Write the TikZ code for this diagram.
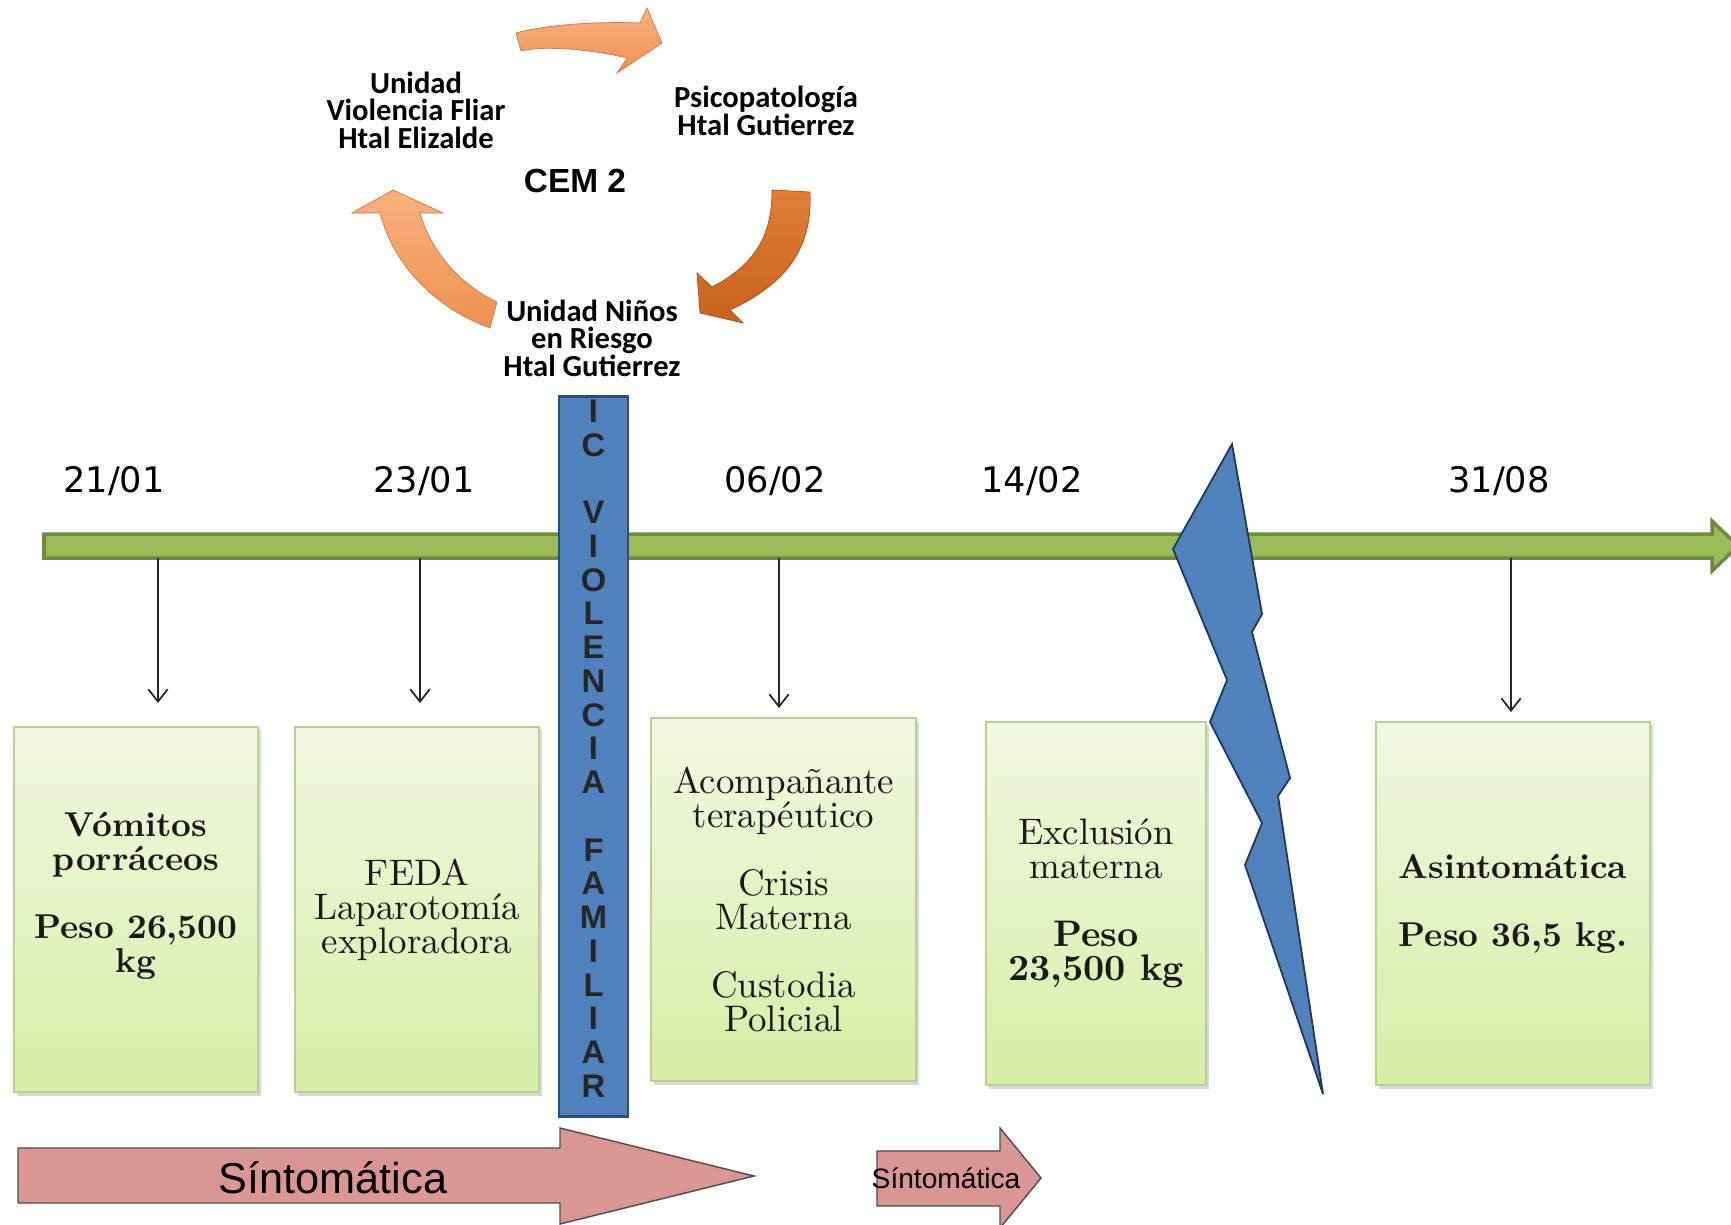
\documentclass[tikz,border=0pt]{standalone}
\usepackage{fontspec}
\usetikzlibrary{arrows.meta,shadows}
\newfontfamily\datefont{DejaVu Sans}
\newfontfamily\calfont{Carlito}
\newfontfamily\arialfont{Liberation Sans}
\definecolor{lineGreen}{HTML}{9BBB59}
\definecolor{lineGreenD}{HTML}{71893F}
\definecolor{boxTop}{HTML}{F1F8E2}
\definecolor{boxBot}{HTML}{D7EEA6}
\definecolor{boxEdge}{HTML}{B9D18C}
\definecolor{barBlue}{HTML}{4F81BD}
\definecolor{barBlueD}{HTML}{2C4D75}
\definecolor{pinkFill}{HTML}{D99694}
\definecolor{orangeL}{HTML}{F9B27E}
\definecolor{orangeM}{HTML}{EE9150}
\definecolor{orangeD}{HTML}{C8621C}
\definecolor{orangeDL}{HTML}{E07E36}

\begin{document}
\begin{tikzpicture}[x=0.01cm,y=-0.01cm]
\tikzstyle{box}=[draw=boxEdge, line width=0.4pt, top color=boxTop, bottom color=boxBot, align=center, inner sep=0pt, text=black!90, font=\fontsize{10.5}{9.7}\selectfont, drop shadow={shadow xshift=0.8pt, shadow yshift=-1pt, opacity=0.3}]
\tikzstyle{boldbox}=[box, font=\fontsize{9.8}{9.7}\selectfont\bfseries]
\tikzstyle{cyc}=[align=center, inner sep=0pt, font=\calfont\bfseries\fontsize{8.7}{7.8}\selectfont]
\tikzstyle{date}=[inner sep=0pt, font=\datefont\fontsize{10}{12}\selectfont]
\tikzstyle{tick}=[-{Straight Barb[length=3.5pt,width=5.5pt]}, line width=0.5pt, black!85]
\tikzstyle{pinkarrow}=[fill=pinkFill, draw=black!70, line width=0.4pt]
\path[use as bounding box, fill=white] (0,0) rectangle (1731,1224);

% cycle at the top
\draw[top color=orangeL, bottom color=orangeM, draw=orangeM!85!black, line width=0.2pt]
  (516,33) .. controls (540,26) and (590,21) .. (640,23) -- (647,8) -- (662,43)
  -- (617,73) -- (627,58) .. controls (595,50) and (545,45) .. (521,51) -- cycle;
\draw[top color=orangeDL, bottom color=orangeD, draw=orangeD!85!black, line width=0.2pt]
  (772,190) -- (810,192) .. controls (812,240) and (795,280) .. (730,310)
  -- (743,323) -- (700,313) -- (697,273) -- (712,287)
  .. controls (760,262) and (772,230) .. (772,190) -- cycle;
\draw[top color=orangeL, bottom color=orangeM, draw=orangeM!85!black, line width=0.2pt]
  (497,302) -- (490,328) .. controls (440,310) and (395,270) .. (380,213)
  -- (352,213) -- (393,190) -- (443,213) -- (420,213)
  .. controls (430,250) and (460,285) .. (497,302) -- cycle;
\node[cyc] (elizalde) at (416,110) {Unidad\\Violencia Fliar\\Htal Elizalde};
\node[cyc] (psico) at (766,111) {Psicopatología\\Htal Gutierrez};
\node[inner sep=0pt, font=\arialfont\bfseries\fontsize{9.5}{11}\selectfont] (cem) at (575,181) {CEM 2};
\node[cyc] (ninos) at (592,338) {Unidad Niños\\en Riesgo\\Htal Gutierrez};

% time line
\draw[draw=lineGreenD, fill=lineGreen, line width=1pt] (44,534) -- (1712,534) -- (1712,521)
  -- (1738,546) -- (1712,571) -- (1712,558) -- (44,558) -- cycle;
\node[date] (d2101) at (114,481) {21/01};
\node[date] (d2301) at (424,481) {23/01};
\node[date] (d0602) at (775,481) {06/02};
\node[date] (d1402) at (1032,481) {14/02};
\node[date] (d3108) at (1499,481) {31/08};
\foreach \x/\y [count=\i] in {158/703,420/703,779/708,1511/712}{
  \coordinate (t\i) at (\x,558);
  \coordinate (e\i) at (\x,\y);
  \draw[tick] (t\i) -- (e\i);}

% boxes
\node[boldbox, minimum width=2.44cm, minimum height=3.65cm] (vomitos) at (136,909.5)
  {Vómitos\\porráceos\\[\baselineskip]Peso 26,500\\kg\\\mbox{}};
\node[box, minimum width=2.44cm, minimum height=3.65cm] (feda) at (417,909.5)
  {FEDA\\Laparotomía\\exploradora};
\node[box, minimum width=2.65cm, minimum height=3.63cm] (acomp) at (783.5,899.5)
  {Acompañante\\terapéutico\\[\baselineskip]Crisis\\Materna\\[\baselineskip]Custodia\\Policial};
\node[box, minimum width=2.20cm, minimum height=3.63cm] (exclu) at (1096,903.5)
  {Exclusión\\materna\\[\baselineskip]\textbf{Peso}\\\textbf{23,500 kg}};
\node[boldbox, minimum width=2.74cm, minimum height=3.63cm] (asint) at (1513,903.5)
  {Asintomática\\[\baselineskip]Peso 36,5 kg.};

% blue bar and break
\node[draw=barBlueD, fill=barBlue, line width=0.8pt, minimum width=0.69cm, minimum height=7.19cm,
  inner sep=0pt, align=center, text=black!85, text depth=4.5pt,
  font=\arialfont\bfseries\fontsize{9.3}{9.6}\selectfont]
  (icvf) at (593.5,756.5)
  {I\\C\\[\baselineskip]V\\I\\O\\L\\E\\N\\C\\I\\A\\[\baselineskip]F\\A\\M\\I\\L\\I\\A\\R};
\draw[fill=barBlue, draw=barBlueD!70!black, line width=0.5pt] (1232,444) -- (1262,614) -- (1252,632)
  -- (1290,778) -- (1278,796) -- (1323,1094) -- (1245,865) -- (1262,823) -- (1210,722)
  -- (1227,680) -- (1173,549) -- cycle;

% symptom arrows
\draw[pinkarrow] (18,1148) -- (560,1148) -- (560,1128) -- (754,1176) -- (560,1224)
  -- (560,1203) -- (18,1203) -- cycle;
\node[inner sep=0pt, font=\arialfont\fontsize{12.3}{14}\selectfont] (sint1) at (333,1178) {Síntomática};
\draw[pinkarrow] (877,1151) -- (1000,1151) -- (1000,1128) -- (1041,1178) -- (1000,1228)
  -- (1000,1206) -- (877,1206) -- cycle;
\node[inner sep=0pt, font=\arialfont\fontsize{8}{10}\selectfont] (sint2) at (946,1178) {Síntomática};
\end{tikzpicture}
\end{document}
